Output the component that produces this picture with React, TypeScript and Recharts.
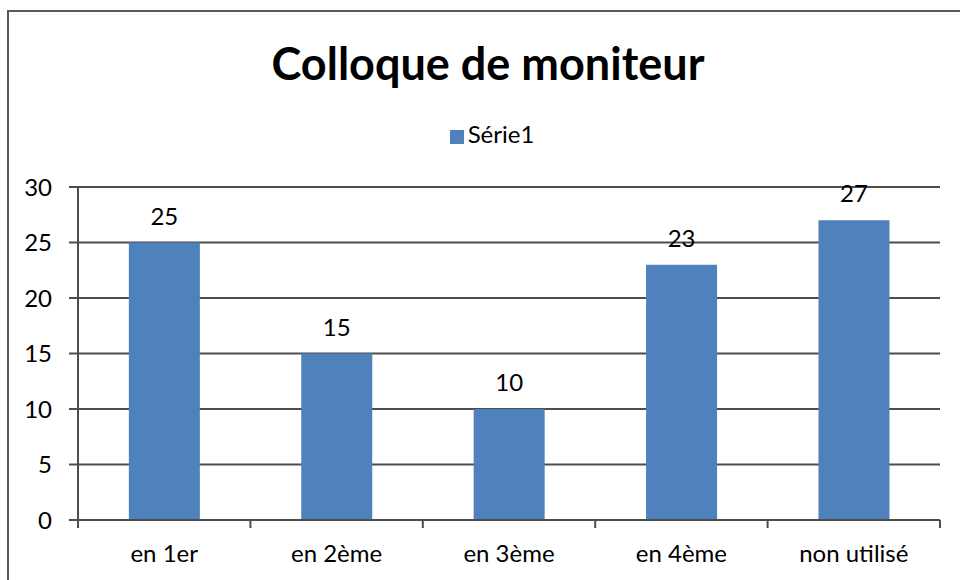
import { BarChart, Bar, XAxis, YAxis, CartesianGrid, Legend, LabelList } from 'recharts';

const categories = ['en 1er', 'en 2ème', 'en 3ème', 'en 4ème', 'non utilisé'];
const serie1 = [25, 15, 10, 23, 27];
const yTicks = [0, 5, 10, 15, 20, 25, 30];
const edgeTicks = [0, 1, 2, 3, 4, 5];

const data = categories.map((name, i) => ({ name, value: serie1[i], slot: i + 0.5 }));

const FONT = 'Lato, "Open Sans", sans-serif';
const LINE = '#4d4d4d';
const BAR = '#4F81BD';

const NoLabel = () => <g />;

export default function App() {
  return (
    <div style={{ position: 'fixed', inset: 0, width: 960, height: 580, overflow: 'hidden', background: '#fff', fontFamily: FONT }}>
      {/* outer chart frame, runs off the right and bottom like the screenshot */}
      <div style={{ position: 'absolute', left: 7, top: 10, width: 1000, height: 1000, border: '2px solid #595959' }} />

      <div style={{ position: 'absolute', left: 0, top: 41, width: 976, textAlign: 'center', fontSize: 45, fontWeight: 700, lineHeight: 1, color: '#000' }}>
        Colloque de moniteur
      </div>

      <div style={{ position: 'absolute', left: 0, top: 0 }}>
        <BarChart width={960} height={580} data={data} margin={{ top: 187, right: 20, bottom: 0, left: 18 }} barCategoryGap="29.5%">
          <CartesianGrid vertical={false} xAxisId="b" stroke={LINE} strokeWidth={2} />
          {/* boundary ticks between categories, like Excel */}
          <XAxis
            xAxisId="a"
            type="number"
            dataKey="slot"
            domain={[0, 5]}
            allowDataOverflow
            ticks={edgeTicks}
            interval={0}
            tick={NoLabel}
            tickLine={{ stroke: LINE, strokeWidth: 2 }}
            height={8}
            tickSize={8}
            stroke={LINE}
            strokeWidth={2}
          />
          <XAxis
            xAxisId="b"
            dataKey="name"
            height={52}
            axisLine={false}
            tickLine={false}
            tickSize={0}
            tickMargin={17}
            tick={{ fill: '#000', fontSize: 24, fontFamily: FONT }}
            interval={0}
          />
          <YAxis
            domain={[0, 30]}
            ticks={yTicks}
            width={60}
            tickSize={9}
            tickMargin={17}
            stroke={LINE}
            strokeWidth={2}
            tick={{ fill: '#000', fontSize: 24, fontFamily: FONT }}
          />
          <Legend
            verticalAlign="middle"
            align="center"
            layout="horizontal"
            iconType="square"
            iconSize={14}
            wrapperStyle={{ top: 119, left: 17, width: 960, fontFamily: FONT, fontSize: 24 }}
            formatter={(v) => <span style={{ color: '#000' }}>{v}</span>}
          />
          <Bar dataKey="value" xAxisId="b" name="Série1" fill={BAR} isAnimationActive={false}>
            <LabelList dataKey="value" position="top" offset={18} fill="#000" fontSize={24} fontFamily={FONT} />
          </Bar>
        </BarChart>
      </div>
    </div>
  );
}
